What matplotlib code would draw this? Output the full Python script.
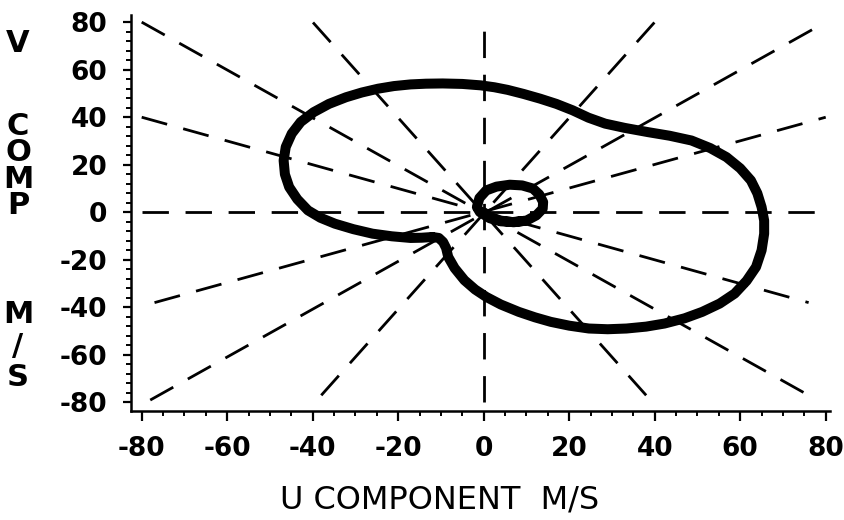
import numpy as np
import matplotlib
matplotlib.use("Agg")
import matplotlib.pyplot as plt
from matplotlib.ticker import MultipleLocator

plt.rcParams['axes.unicode_minus'] = False
plt.rcParams['lines.scale_dashes'] = False

# Radial dashed guide lines (end points, m/s)
guide_start = [(-80, 80), (-80, 40), (-80, 0), (-77, -38), (-78, -79), (-38, -77), (0, -80), (38, -77)]
guide_end = [(78, -79), (76, -38), (80, 0), (80, 40), (80, 80), (40, 80), (0, 80), (-40, 80)]

# Large hodograph loop (u, v)
big_u = [-12.0, -10.5, -9.5, -8.8, -8.3, -6.8, -4.5, -2.0, 0.6, 4.0, 8.2, 12.0, 15.7, 20.0,
         24.6, 29.0, 33.4, 38.0, 42.3, 47.0, 51.1, 55.2, 58.7, 61.5, 63.7, 65.0, 65.6, 65.6,
         65.0, 64.0, 62.5, 60.0, 56.8, 53.0, 48.6, 43.5, 38.5, 33.0, 28.4, 24.5, 20.8, 17.0,
         13.2, 9.3, 5.6, 2.5, -0.7, -5.0, -9.6, -13.5, -17.1, -21.0, -24.7, -28.5, -32.2,
         -36.2, -39.8, -42.8, -44.9, -46.3, -46.8, -46.5, -45.5, -43.6, -41.1, -38.2, -34.8,
         -30.5, -26.0, -21.5, -17.1, -14.5, -12.0]
big_v = [-10.4, -10.8, -12.5, -15.0, -18.8, -23.5, -28.6, -32.5, -35.6, -38.8, -41.9, -44.2,
         -46.1, -47.7, -48.9, -49.2, -48.9, -48.1, -46.8, -44.6, -41.9, -38.4, -34.2, -28.8,
         -23.0, -16.0, -9.0, -3.5, 2.2, 8.0, 13.4, 18.5, 23.2, 27.0, 30.2, 32.2, 33.7, 35.5,
         37.3, 39.8, 42.9, 45.6, 47.8, 49.8, 51.5, 52.6, 53.4, 54.0, 54.2, 54.1, 53.8, 53.1,
         52.0, 50.4, 48.4, 45.6, 42.1, 38.0, 33.1, 27.5, 21.8, 16.0, 10.6, 5.5, 0.8, -2.3,
         -4.8, -7.1, -9.0, -10.1, -10.8, -10.7, -10.4]

# Small loop near the origin
small_u = [0.0, 1.5, 4.0, 7.0, 10.0, 12.3, 13.8, 13.9, 13.0, 11.5, 9.0, 6.1, 3.0, 0.6,
           -1.0, -1.6, -0.9, 1.4, 4.0, 6.8, 9.5]
small_v = [0.0, -2.0, -3.5, -4.2, -3.5, -1.3, 1.5, 4.3, 7.5, 10.0, 11.3, 11.6, 10.8, 9.2,
           6.0, 2.2, 0.1, -2.5, -3.8, -4.1, -3.6]

xticks = [-80, -60, -40, -20, 0, 20, 40, 60, 80]
yticks = [-80, -60, -40, -20, 0, 20, 40, 60, 80]

fig = plt.figure(figsize=(8.45, 5.2), dpi=100)
ax = fig.add_axes([131 / 845, 1 - 411 / 520, (830 - 131) / 845, (411 - 15) / 520])

for (x0, y0), (x1, y1) in zip(guide_start, guide_end):
    ax.plot([x0, x1], [y0, y1], color='black', lw=2.0, dashes=(19, 12), zorder=1)

ax.plot(big_u, big_v, color='black', lw=7.2, solid_joinstyle='round',
        solid_capstyle='round', zorder=3)
ax.plot(small_u, small_v, color='black', lw=7.2, solid_joinstyle='round',
        solid_capstyle='round', zorder=3)

ax.set_xlim(-82.5, 81)
ax.set_ylim(-83.6, 83)
ax.set_xticks(xticks)
ax.set_yticks(yticks)
ax.xaxis.set_minor_locator(MultipleLocator(5))
ax.yaxis.set_minor_locator(MultipleLocator(4))

for side in ['top', 'right']:
    ax.spines[side].set_visible(False)
for side in ['left', 'bottom']:
    ax.spines[side].set_linewidth(1.8)

ax.tick_params(axis='both', which='major', width=1.6, direction='out', labelsize=19)
ax.tick_params(axis='x', which='major', length=7, pad=11)
ax.tick_params(axis='y', which='major', length=6, pad=11)
ax.tick_params(axis='both', which='minor', width=1.4, length=3.5, direction='out')
for lab in ax.get_xticklabels() + ax.get_yticklabels():
    lab.set_fontweight('bold')

fig.text(440 / 845, 1 - 500 / 520, 'U COMPONENT  M/S', ha='center', va='center',
         fontsize=23)

# stacked vertical axis title, one block per word
ylabel_words = ['V', 'C\nO\nM\nP', 'M\n/\nS']
ylabel_pos = [43, 166, 346]
ylabel_spacing = [1.0, 0.88, 1.1]
for word, py, ls in zip(ylabel_words, ylabel_pos, ylabel_spacing):
    fig.text(18 / 845, 1 - py / 520, word, ha='center', va='center', ma='center',
             fontsize=22, fontweight='bold', linespacing=ls)

fig.savefig('out.png', dpi=100)
